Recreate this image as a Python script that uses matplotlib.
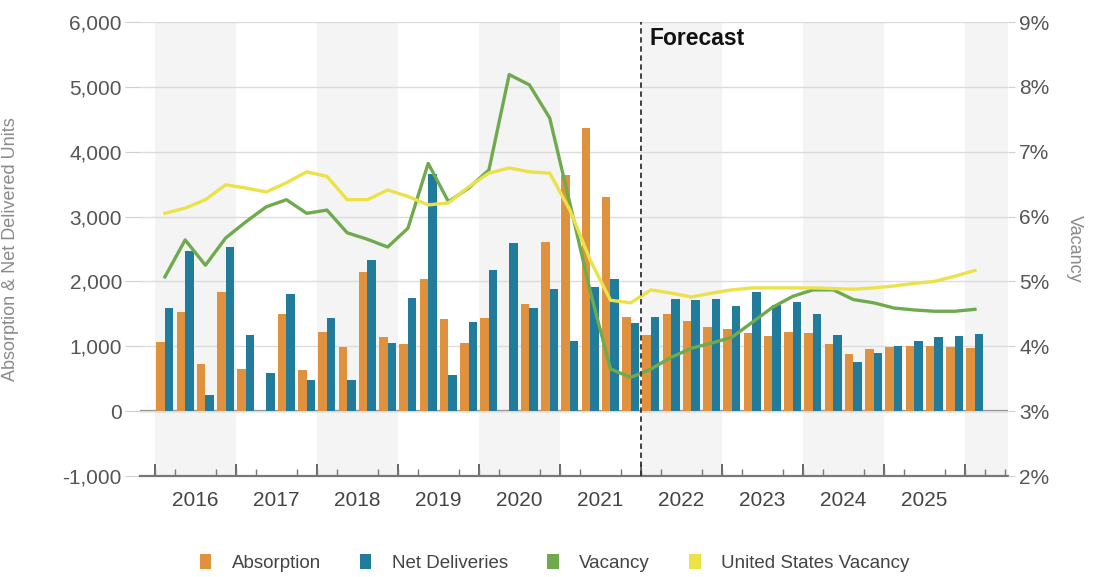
import numpy as np
import matplotlib.pyplot as plt
from matplotlib.patches import Patch
from matplotlib.ticker import FuncFormatter

plt.rcParams['font.family'] = ['Liberation Sans', 'DejaVu Sans']

# quarterly series, 2016 Q1 .. 2026 Q1
YEARS = list(range(2016, 2026))
ABSORPTION = [1070, 1530, 725, 1840, 645, 0, 1505, 635, 1225, 985, 2150, 1140,
              1035, 2045, 1415, 1045, 1430, 0, 1645, 2615, 3640, 4360, 3295, 1445,
              1175, 1505, 1390, 1290, 1260, 1200, 1160, 1220, 1210, 1035, 878, 952,
              983, 1003, 1003, 983, 977]
NET_DELIVERIES = [1585, 2470, 250, 2536, 1173, 581, 1800, 478, 1440, 478, 2330, 1054,
                  1749, 3660, 556, 1379, 2176, 2588, 1584, 1877, 1080, 1919, 2032, 1363,
                  1446, 1728, 1713, 1723, 1620, 1841, 1636, 1687, 1497, 1173, 761, 900,
                  1003, 1080, 1147, 1162, 1183]
VACANCY = [5.07, 5.64, 5.25, 5.67, 5.92, 6.15, 6.26, 6.05, 6.10, 5.75, 5.65, 5.53,
           5.82, 6.82, 6.23, 6.44, 6.72, 8.19, 8.03, 7.52, 6.20, 4.85, 3.65, 3.52,
           3.65, 3.83, 3.97, 4.05, 4.14, 4.37, 4.60, 4.77, 4.87, 4.87, 4.72, 4.67,
           4.59, 4.56, 4.54, 4.54, 4.57]
US_VACANCY = [6.05, 6.13, 6.26, 6.49, 6.44, 6.38, 6.52, 6.69, 6.62, 6.26, 6.26, 6.41,
              6.31, 6.18, 6.21, 6.46, 6.67, 6.75, 6.69, 6.67, 6.10, 5.33, 4.71, 4.67,
              4.87, 4.82, 4.76, 4.82, 4.87, 4.90, 4.90, 4.90, 4.90, 4.89, 4.88, 4.90,
              4.93, 4.97, 5.00, 5.08, 5.17]
FORECAST_START = 24  # 2022 Q1

ORANGE = "#e0913e"
TEAL = "#217b9a"
GREEN = "#6faa4f"
YELLOW = "#ebe24a"
TEXT = "#555555"

q = np.arange(len(ABSORPTION))

fig = plt.figure(figsize=(10.94, 5.77), dpi=100)
ax = fig.add_axes([140 / 1094, 101 / 577, 868 / 1094, 454 / 577])
ax.set_xlim(-1.23, 41.63)
ax.set_ylim(-1000, 6000)

# shaded band on every other year
for k in range(0, 11, 2):
    ax.axvspan(4 * k - 0.5, 4 * k + 3.5, color="#f4f4f4", lw=0, zorder=0)

ax.set_yticks(range(-1000, 6001, 1000))
ax.yaxis.set_major_formatter(FuncFormatter(lambda v, p: f"{int(v):,}"))
ax.grid(axis="y", color="#dcdcdc", lw=1, zorder=0.5)
ax.axhline(0, color="#858585", lw=1.6, zorder=1.5)

ax.bar(q - 0.21, ABSORPTION, width=0.42, color=ORANGE, zorder=2)
ax.bar(q + 0.21, NET_DELIVERIES, width=0.42, color=TEAL, zorder=2)

for s in ("top", "left", "right"):
    ax.spines[s].set_visible(False)
ax.spines["bottom"].set_color("#777777")
ax.spines["bottom"].set_linewidth(1.6)

ax.set_xticks([4 * k + 1.5 for k in range(len(YEARS))], [str(y) for y in YEARS])
ax.set_xticks(np.arange(-0.5, 42, 1), minor=True)
ax.tick_params(axis="x", which="major", length=0, pad=11, labelsize=15, labelcolor="#444444")
ax.tick_params(axis="x", which="minor", length=5, direction="in", color="#777777", width=1)
ax.tick_params(axis="y", length=11, color="#d0d0d0", pad=2, labelsize=15, labelcolor=TEXT)

# longer ticks on year boundaries
sec = ax.secondary_xaxis("bottom")
sec.set_xticks(np.arange(-0.5, 42, 4))
sec.tick_params(length=9, direction="in", color="#666666", width=1.4, labelbottom=False)
sec.spines["bottom"].set_visible(False)

ax.set_ylabel("Absorption & Net Delivered Units", fontsize=13, color="#8a8a8a")
ax.yaxis.set_label_coords(-(140 - 19) / 868, 0.5)

ax2 = ax.twinx()
ax2.set_ylim(2, 9)
ax2.plot(q, VACANCY, color=GREEN, lw=2.4, zorder=3)
ax2.plot(q, US_VACANCY, color=YELLOW, lw=2.4, zorder=3)
ax2.set_yticks(range(2, 10))
ax2.yaxis.set_major_formatter(FuncFormatter(lambda v, p: f"{int(v)}%"))
ax2.tick_params(axis="y", length=5, color="#d0d0d0", pad=3, labelsize=15, labelcolor=TEXT)
for s in ax2.spines.values():
    s.set_visible(False)
ax2.set_ylabel("Vacancy", fontsize=13, color="#8a8a8a", rotation=270)
ax2.yaxis.set_label_coords((1083 - 140) / 868, 0.5)

# forecast divider
ax2.axvline(FORECAST_START - 0.5, color="#333333", lw=1.3, ls=(0, (3, 2)), zorder=4)
ax2.text(FORECAST_START - 0.05, 8.93, "Forecast", fontsize=16.5, fontweight="bold",
         color="#111111", va="top", ha="left")

handles = [Patch(facecolor=c) for c in (ORANGE, TEAL, GREEN, YELLOW)]
labels = ["Absorption", "Net Deliveries", "Vacancy", "United States Vacancy"]
fig.legend(handles, labels, loc="center", bbox_to_anchor=(0.507, 0.024), ncol=4,
           frameon=False, handlelength=0.6, handleheight=0.8, columnspacing=2.1,
           handletextpad=1.1, fontsize=13.5, labelcolor="#444444")

fig.savefig("out.png", dpi=100)
